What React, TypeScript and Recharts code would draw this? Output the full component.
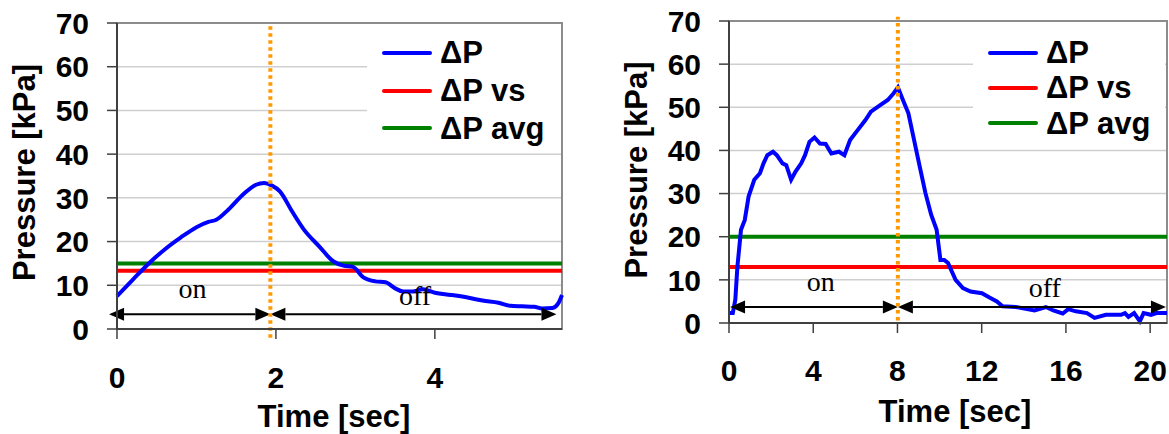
import { LineChart, Line, XAxis, YAxis, CartesianGrid, ReferenceLine, ReferenceArea, ReferenceDot, Legend } from 'recharts';

const pressureTicks = [0, 10, 20, 30, 40, 50, 60, 70];
const legendNames = ['ΔP', 'ΔP vs', 'ΔP avg'];
const legendColors = ['#0000FF', '#FF0000', '#008000'];

// left panel
const leftTime = [0, 0.2, 0.4, 0.6, 0.8, 1.0, 1.15, 1.25, 1.4, 1.6, 1.75, 1.85, 1.95, 2.05, 2.2, 2.35, 2.55, 2.72, 2.85, 2.97, 3.1, 3.25, 3.38, 3.5, 3.6, 3.72, 3.85, 4.0, 4.2, 4.44, 4.6, 4.8, 4.95, 5.1, 5.25, 5.35, 5.48, 5.55, 5.6];
const leftDp = [7.5, 11.3, 15.0, 18.2, 20.9, 23.3, 24.5, 25.0, 27.3, 31.0, 33.0, 33.4, 32.8, 31.5, 27.0, 22.8, 18.8, 15.5, 14.5, 14.2, 11.8, 10.9, 10.7, 9.3, 8.6, 8.6, 9.1, 8.3, 7.8, 7.1, 6.5, 6.0, 5.3, 5.2, 5.1, 4.7, 4.8, 5.8, 7.8];
const leftTicks = [0, 2, 4];
const leftXMax = 5.6;
const leftVs = 13.3;
const leftAvg = 15;
const leftSwitch = 1.93;
const leftArrow = { y: 3.4, start: -0.1, end: 5.53 };
const leftTexts = [{ t: 0.95, v: 9.45, text: 'on' }, { t: 3.75, v: 7.8, text: 'off' }];

// right panel
const rightTime = [0, 0.18, 0.3, 0.4, 0.57, 0.75, 0.93, 1.2, 1.47, 1.64, 1.82, 2.09, 2.27, 2.54, 2.72, 2.95, 3.16, 3.43, 3.61, 3.82, 4.06, 4.32, 4.59, 4.86, 5.22, 5.48, 5.75, 6.11, 6.47, 6.74, 7.18, 7.54, 7.81, 8.02, 8.26, 8.52, 8.79, 9.06, 9.33, 9.6, 9.86, 10.04, 10.22, 10.4, 10.76, 11.11, 11.47, 12.01, 12.37, 12.72, 12.99, 13.62, 14.51, 15.05, 15.4, 15.85, 16.11, 16.47, 17.0, 17.36, 17.9, 18.62, 18.8, 18.97, 19.24, 19.51, 19.69, 20.04, 20.3, 20.8];
const rightDp = [2.3, 2.3, 5.4, 13.1, 21.6, 23.9, 29.3, 33.2, 34.7, 37.0, 38.9, 39.7, 38.9, 37.0, 36.6, 33.2, 35.1, 37.0, 38.9, 42.0, 43.0, 41.6, 41.5, 39.3, 39.7, 38.9, 42.4, 44.7, 47.0, 49.0, 50.5, 51.7, 53.2, 54.6, 51.7, 48.6, 42.4, 36.2, 30.1, 25.1, 21.6, 14.6, 14.6, 13.9, 10.0, 8.1, 7.3, 6.9, 5.9, 5.0, 3.9, 3.7, 2.9, 3.7, 2.9, 2.2, 3.2, 2.7, 2.3, 1.2, 1.9, 1.9, 2.3, 1.4, 2.3, 0.4, 2.3, 1.9, 2.3, 2.3];
const rightTicks = [0, 4, 8, 12, 16, 20];
const rightXMax = 20.8;
const rightVs = 13;
const rightAvg = 20;
const rightSwitch = 8.02;
const rightArrow = { y: 3.7, start: 0.05, end: 20.75 };
const rightTexts = [{ t: 4.36, v: 9.8, text: 'on' }, { t: 15.0, v: 8.4, text: 'off' }];

const boldFont = 'Arial, "Liberation Sans", sans-serif';
const serifFont = '"Times New Roman", "Liberation Serif", serif';

const ArrowShape = (props: any) => {
  const { x1, y1, x2, y2 } = props;
  const head = 15;
  const half = 6.5;
  const dir = x2 >= x1 ? 1 : -1;
  return (
    <g>
      <line x1={x1 + dir * head} y1={y1} x2={x2 - dir * head} y2={y2} stroke="#000" strokeWidth={2} />
      <polygon points={`${x1},${y1} ${x1 + dir * head},${y1 - half} ${x1 + dir * head},${y1 + half}`} fill="#000" />
      <polygon points={`${x2},${y2} ${x2 - dir * head},${y2 - half} ${x2 - dir * head},${y2 + half}`} fill="#000" />
    </g>
  );
};

type PanelProps = {
  time: number[];
  dp: number[];
  ticks: number[];
  xMax: number;
  vs: number;
  avg: number;
  switchT: number;
  switchY: [number, number];
  arrow: { y: number; start: number; end: number };
  texts: { t: number; v: number; text: string }[];
  width: number;
  margin: { top: number; right: number; left: number; bottom: number };
  yAxisWidth: number;
  xAxisHeight: number;
  tickMargin: number;
  yTitle: { x: number; y: number };
  xTitle: { x: number; y: number };
  legend: { left: number; top: number; width: number; height: number; padTop: number; padLeft: number; row: number };
  lineType: 'monotone' | 'linear';
};

function PressurePanel(p: PanelProps) {
  const data = p.time.map((t, i) => ({ t, dp: p.dp[i] }));
  const tickStyle = { fontSize: 30, fontWeight: 700, fill: '#000', fontFamily: boldFont };

  const renderLegend = () => (
    <div style={{ background: '#fff', width: p.legend.width, height: p.legend.height, paddingTop: p.legend.padTop, paddingLeft: p.legend.padLeft, boxSizing: 'border-box' }}>
      {legendNames.map((name, i) => (
        <div key={name} style={{ display: 'flex', alignItems: 'center', height: p.legend.row }}>
          <div style={{ width: 50, height: 4, borderRadius: 2, background: legendColors[i], marginRight: 8 }} />
          <span style={{ fontFamily: boldFont, fontWeight: 700, fontSize: 31, color: '#000', lineHeight: 1 }}>{name}</span>
        </div>
      ))}
    </div>
  );

  return (
    <LineChart width={p.width} height={434} data={data} margin={p.margin}>
      <CartesianGrid vertical={false} stroke="#cfcfcf" strokeWidth={1.5} />
      <ReferenceArea x1={0} x2={p.xMax} y1={0} y2={70} fill="none" stroke="#8c8c8c" strokeWidth={2} />
      <XAxis
        type="number"
        dataKey="t"
        domain={[0, p.xMax]}
        ticks={p.ticks}
        height={p.xAxisHeight}
        tick={tickStyle}
        tickSize={10}
        tickMargin={p.tickMargin}
        axisLine={{ stroke: '#404040', strokeWidth: 2 }}
        tickLine={{ stroke: '#404040', strokeWidth: 1.5 }}
        label={() => (
          <text x={p.xTitle.x} y={p.xTitle.y} textAnchor="middle" fontSize={31} fontWeight={700} fontFamily={boldFont} fill="#000">
            Time [sec]
          </text>
        )}
      />
      <YAxis
        type="number"
        domain={[0, 70]}
        ticks={pressureTicks}
        width={p.yAxisWidth}
        tick={tickStyle}
        tickSize={10}
        tickMargin={18}
        axisLine={{ stroke: '#404040', strokeWidth: 2 }}
        tickLine={{ stroke: '#404040', strokeWidth: 1.5 }}
        label={() => (
          <text
            x={p.yTitle.x}
            y={p.yTitle.y}
            dy={11}
            transform={`rotate(-90, ${p.yTitle.x}, ${p.yTitle.y})`}
            textAnchor="middle"
            fontSize={31}
            fontWeight={700}
            fontFamily={boldFont}
            fill="#000"
          >
            Pressure [kPa]
          </text>
        )}
      />
      <ReferenceLine y={p.vs} stroke="#FF0000" strokeWidth={4} />
      <ReferenceLine y={p.avg} stroke="#008000" strokeWidth={4} />
      <Line type={p.lineType} dataKey="dp" name="ΔP" stroke="#0000FF" strokeWidth={4} dot={false} isAnimationActive={false} />
      <ReferenceLine
        segment={[{ x: p.arrow.start, y: p.arrow.y }, { x: p.switchT, y: p.arrow.y }]}
        ifOverflow="visible"
        shape={ArrowShape}
      />
      <ReferenceLine
        segment={[{ x: p.switchT, y: p.arrow.y }, { x: p.arrow.end, y: p.arrow.y }]}
        ifOverflow="visible"
        shape={ArrowShape}
      />
      <ReferenceLine
        segment={[{ x: p.switchT, y: p.switchY[0] }, { x: p.switchT, y: p.switchY[1] }]}
        ifOverflow="visible"
        stroke="#FF9900"
        strokeWidth={4}
        strokeDasharray="3.5 3.5"
      />
      {p.texts.map((d) => (
        <ReferenceDot
          key={d.text}
          x={d.t}
          y={d.v}
          r={0}
          fill="none"
          stroke="none"
          ifOverflow="visible"
          label={{ value: d.text, position: 'center', fontSize: 28, fontFamily: serifFont, fill: '#000' }}
        />
      ))}
      <Legend
        layout="vertical"
        align="center"
        verticalAlign="middle"
        content={renderLegend}
        wrapperStyle={{ left: p.legend.left, top: p.legend.top, width: p.legend.width, height: p.legend.height }}
      />
    </LineChart>
  );
}

export default function App() {
  return (
    <div style={{ position: 'absolute', left: 0, top: 0, width: 1169, height: 434, background: '#fff' }}>
      <div style={{ position: 'absolute', left: 0, top: 0 }}>
        <PressurePanel
          time={leftTime}
          dp={leftDp}
          ticks={leftTicks}
          xMax={leftXMax}
          vs={leftVs}
          avg={leftAvg}
          switchT={leftSwitch}
          switchY={[-2, 70]}
          arrow={leftArrow}
          texts={leftTexts}
          width={580}
          margin={{ top: 23, right: 18, left: 0, bottom: 0 }}
          yAxisWidth={117}
          xAxisHeight={105}
          tickMargin={28}
          yTitle={{ x: 24, y: 172.5 }}
          xTitle={{ x: 334, y: 427 }}
          legend={{ left: 367, top: 24, width: 194, height: 124, padTop: 10, padLeft: 15, row: 37.8 }}
          lineType="monotone"
        />
      </div>
      <div style={{ position: 'absolute', left: 600, top: 0 }}>
        <PressurePanel
          time={rightTime}
          dp={rightDp}
          ticks={rightTicks}
          xMax={rightXMax}
          vs={rightVs}
          avg={rightAvg}
          switchT={rightSwitch}
          switchY={[0.6, 71]}
          arrow={rightArrow}
          texts={rightTexts}
          width={569}
          margin={{ top: 21, right: 2, left: 0, bottom: 0 }}
          yAxisWidth={129}
          xAxisHeight={111}
          tickMargin={27}
          yTitle={{ x: 35.5, y: 170 }}
          xTitle={{ x: 355, y: 422 }}
          legend={{ left: 373, top: 22, width: 192, height: 121, padTop: 13, padLeft: 15, row: 35.3 }}
          lineType="linear"
        />
      </div>
    </div>
  );
}
